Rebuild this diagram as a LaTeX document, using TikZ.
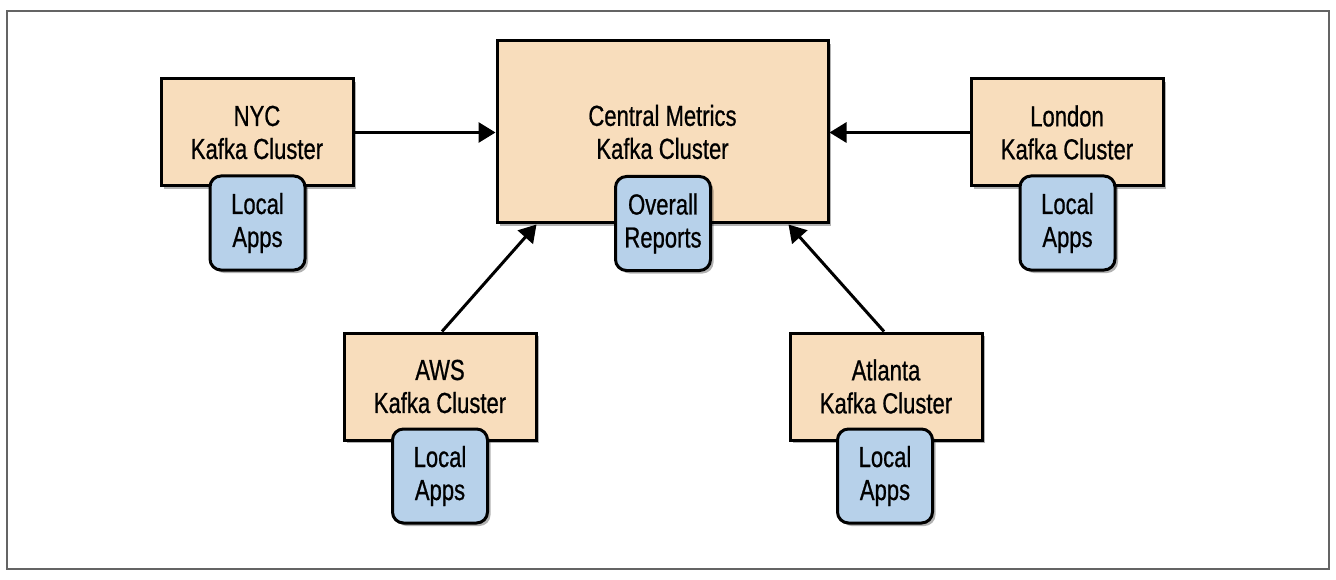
\documentclass[tikz,border=0pt]{standalone}
\usepackage{fontspec}
\setmainfont[FakeStretch=0.76,FakeBold=0.7]{Liberation Sans}
\usetikzlibrary{shadows,arrows.meta}
\definecolor{tanfill}{RGB}{248,221,188}
\definecolor{bluefill}{RGB}{183,209,234}
\definecolor{framegray}{RGB}{100,100,100}
\tikzset{
  lbl/.style={font=\fontsize{29}{33}\selectfont, align=center},
  cluster/.style={lbl, draw=black, line width=3pt, fill=tanfill, inner sep=0pt,
    drop shadow={shadow xshift=3pt, shadow yshift=-3pt, opacity=0.3, fill=black}},
  app/.style={lbl, draw=black, line width=3pt, fill=bluefill, rounded corners=11pt,
    inner sep=0pt, minimum width=95pt, minimum height=94pt,
    drop shadow={shadow xshift=3pt, shadow yshift=-3pt, opacity=0.3, fill=black}},
  flow/.style={line width=3pt, -{Triangle[length=17pt,width=20pt]}}
}
\begin{document}
\begin{tikzpicture}[x=1pt,y=-1pt]
\useasboundingbox (0,0) rectangle (1336,580);
\fill[white] (0,0) rectangle (1336,580);
\draw[framegray, line width=1.2pt] (7,11) rectangle (1329,569);

% clusters
\node[cluster, minimum width=331pt, minimum height=182pt] (central) at (662.5,132) {Central Metrics\\Kafka Cluster};
\node[cluster, minimum width=192pt, minimum height=107pt] (nyc) at (257,132.5) {NYC\\Kafka Cluster};
\node[cluster, minimum width=192pt, minimum height=107pt] (london) at (1067,132.5) {London\\Kafka Cluster};
\node[cluster, minimum width=192pt, minimum height=107pt] (aws) at (440,386.5) {AWS\\Kafka Cluster};
\node[cluster, minimum width=192pt, minimum height=107pt] (atlanta) at (886,386.5) {Atlanta\\Kafka Cluster};

% apps
\node[app] (reports) at (663,223.5) {Overall\\Reports};
\node[app] (nycapps) at (257.5,223) {Local\\Apps};
\node[app] (londonapps) at (1067.5,223) {Local\\Apps};
\node[app] (awsapps) at (440,476) {Local\\Apps};
\node[app] (atlantaapps) at (885,476) {Local\\Apps};

% connectors
\draw[flow] (nyc.east) -- (nyc.east -| central.west);
\draw[flow] (london.west) -- (london.west -| central.east);
\draw[flow] ([xshift=2pt]aws.north) -- ([xshift=41pt]central.south west);
\draw[flow] ([xshift=-2pt]atlanta.north) -- ([xshift=-41pt]central.south east);
\end{tikzpicture}
\end{document}
